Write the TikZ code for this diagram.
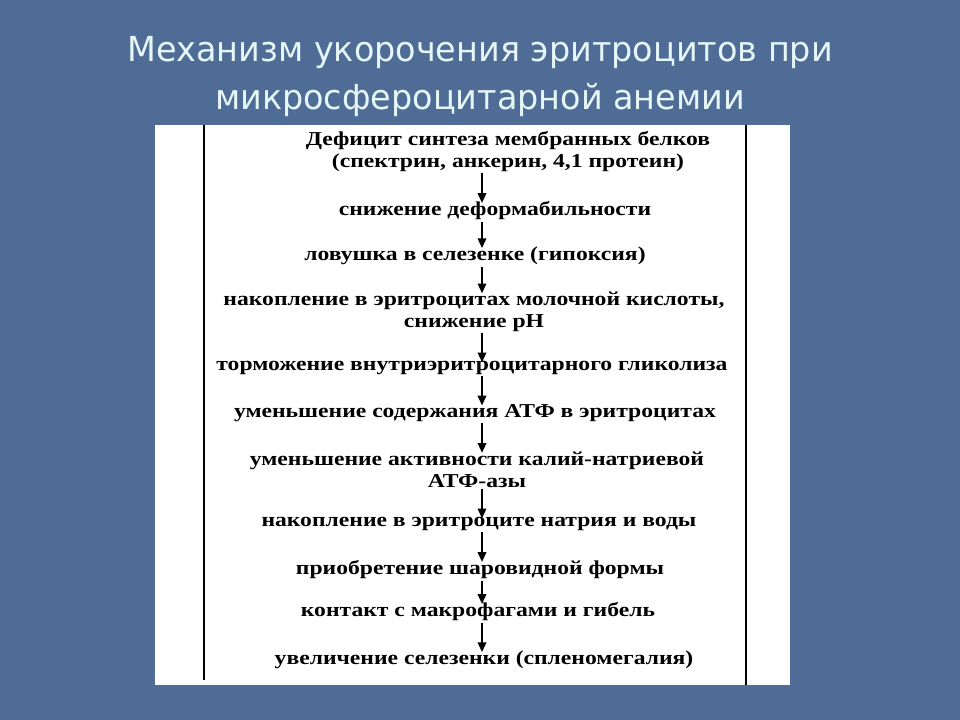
\documentclass[tikz,border=0pt]{standalone}
\usepackage{fontspec}
\newfontfamily\titlefont[FakeStretch=0.97]{DejaVu Sans}
\newfontfamily\scanfont[FakeStretch=1.2]{Liberation Serif}
\usetikzlibrary{arrows.meta}
\definecolor{slideblue}{RGB}{78,108,150}
\definecolor{titlewhite}{RGB}{230,246,246}
\tikzset{
  stage/.style={font=\scanfont\bfseries\fontsize{14}{15.5}\selectfont, align=center, inner sep=1pt, text=black},
  flow/.style={-{Triangle[length=7pt,width=6pt]}, line width=1.4pt, black, shorten >=-2pt},
  headline/.style={font=\titlefont\fontsize{24.5}{34}\selectfont, text=titlewhite, anchor=base}
}
\begin{document}
\begin{tikzpicture}[x=0.025cm, y=-0.025cm]
  \fill[slideblue] (0,0) rectangle (960,720);
  \node[headline] (title1) at (480,62) {Механизм укорочения эритроцитов при};
  \node[headline] (title2) at (480,110) {микросфероцитарной анемии};

  \fill[white] (155,125) rectangle (790,685);
  \draw[black, line width=1.6pt] (204,125) -- (204,680);
  \draw[black, line width=0.8pt] (746,125) -- (746,685);

  \coordinate (ax) at (482,0);
  \node[stage] (s1) at (508,151.5) {Дефицит синтеза мембранных белков\\(спектрин, анкерин, 4,1 протеин)};
  \node[stage] (s2) at (495,211) {снижение деформабильности};
  \node[stage] (s3) at (475,256) {ловушка в селезенке (гипоксия)};
  \node[stage] (s4) at (474,312) {накопление в эритроцитах молочной кислоты,\\снижение рН};
  \node[stage] (s5) at (472,368) {торможение внутриэритроцитарного гликолиза};
  \node[stage] (s6) at (475,413) {уменьшение содержания АТФ в эритроцитах};
  \node[stage] (s7) at (477,469.5) {уменьшение активности калий-натриевой\\АТФ-азы};
  \node[stage] (s8) at (479,524) {накопление в эритроците натрия и воды};
  \node[stage] (s9) at (480,570) {приобретение шаровидной формы};
  \node[stage] (s10) at (478,612) {контакт с макрофагами и гибель};
  \node[stage] (s11) at (484,660) {увеличение селезенки (спленомегалия)};

  \foreach \a/\b in {s1/s2,s2/s3,s3/s4,s4/s5,s5/s6,s6/s7,s7/s8,s8/s9,s9/s10,s10/s11}
    \draw[flow] (\a.south -| ax) -- (\b.north -| ax);
\end{tikzpicture}
\end{document}
